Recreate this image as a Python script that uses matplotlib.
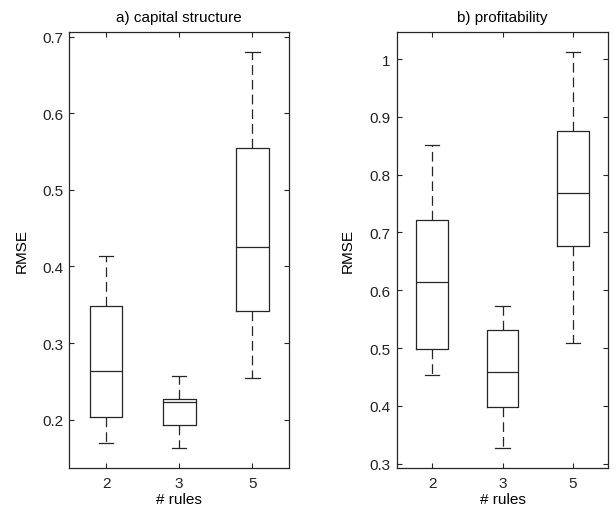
import matplotlib
matplotlib.use("Agg")
import matplotlib.pyplot as plt

plt.rcParams["font.family"] = ["Liberation Sans", "DejaVu Sans"]
plt.rcParams["font.size"] = 11
plt.rcParams["lines.scale_dashes"] = False

rule_labels = ["2", "3", "5"]

# a) capital structure: lower whisker, q1, median, q3, upper whisker
cap_low = [0.169, 0.163, 0.255]
cap_q1 = [0.204, 0.193, 0.342]
cap_med = [0.264, 0.2235, 0.426]
cap_q3 = [0.349, 0.2265, 0.555]
cap_high = [0.413, 0.2565, 0.680]

# b) profitability
prof_low = [0.454, 0.327, 0.509]
prof_q1 = [0.498, 0.398, 0.677]
prof_med = [0.614, 0.458, 0.769]
prof_q3 = [0.722, 0.531, 0.875]
prof_high = [0.852, 0.5735, 1.0126]

LINE = "#262626"


def make_stats(low, q1, med, q3, high):
    return [
        {"whislo": a, "q1": b, "med": c, "q3": d, "whishi": e, "fliers": []}
        for a, b, c, d, e in zip(low, q1, med, q3, high)
    ]


def draw_panel(ax, stats, title, yticks, ylim, ylab_x):
    ax.bxp(
        stats,
        positions=[1, 2, 3],
        widths=0.45,
        showfliers=False,
        boxprops=dict(color=LINE, linewidth=0.9),
        medianprops=dict(color=LINE, linewidth=0.9),
        whiskerprops=dict(color=LINE, linewidth=0.9, linestyle=(0, (7, 3.6))),
        capprops=dict(color=LINE, linewidth=0.9),
        capwidths=0.2,
    )
    ax.set_xlim(0.5, 3.5)
    ax.set_ylim(*ylim)
    ax.set_xticks([1, 2, 3])
    ax.set_xticklabels(rule_labels)
    ax.set_yticks(yticks)
    ax.set_yticklabels([f"{t:g}" for t in yticks])
    ax.tick_params(direction="in", length=3.5, width=0.8, top=True, right=True,
                   colors=LINE, labelcolor="#222222", labelsize=11)
    ax.tick_params(axis="x", pad=6)
    ax.tick_params(axis="y", pad=4.5)
    for sp in ax.spines.values():
        sp.set_color(LINE)
        sp.set_linewidth(0.9)
    ax.set_title(title, fontsize=11, pad=8)
    ax.set_xlabel("# rules", fontsize=11, labelpad=1)
    ax.set_ylabel("RMSE", fontsize=11)
    ax.yaxis.set_label_coords(ylab_x, 0.5)


fig = plt.figure(figsize=(6.16, 5.10), dpi=100)
ax1 = fig.add_axes([0.1128, 0.0804, 0.356, 0.855])
ax2 = fig.add_axes([0.6445, 0.0804, 0.3425, 0.855])

draw_panel(ax1, make_stats(cap_low, cap_q1, cap_med, cap_q3, cap_high),
           "a) capital structure", [0.2, 0.3, 0.4, 0.5, 0.6, 0.7],
           (0.137, 0.706), -0.184)
draw_panel(ax2, make_stats(prof_low, prof_q1, prof_med, prof_q3, prof_high),
           "b) profitability", [0.3, 0.4, 0.5, 0.6, 0.7, 0.8, 0.9, 1.0],
           (0.2925, 1.047), -0.202)

fig.savefig("out.png", dpi=100)
